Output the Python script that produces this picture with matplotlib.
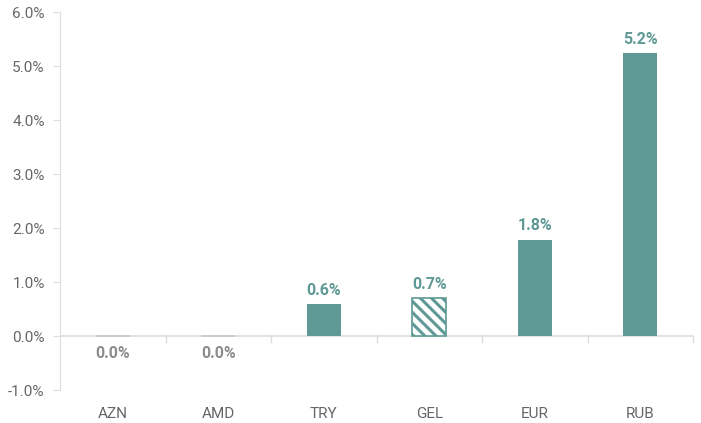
import numpy as np
import matplotlib
matplotlib.use("Agg")
import matplotlib.pyplot as plt

plt.rcParams['font.family'] = ['Roboto', 'DejaVu Sans']
plt.rcParams['hatch.linewidth'] = 2.2

currencies = ['AZN', 'AMD', 'TRY', 'GEL', 'EUR', 'RUB']
values = [0.0, 0.0, 0.59, 0.70, 1.78, 5.24]
labels = ['0.0%', '0.0%', '0.6%', '0.7%', '1.8%', '5.2%']

teal = '#5e9995'
grey = '#8c8c8c'
axis_grey = '#dddddd'

fig = plt.figure(figsize=(7.01, 4.23), dpi=100)
ax = fig.add_axes([60/701, 33/423, 633/701, 378/423])

x = np.arange(len(currencies))
for i, v in enumerate(values):
    if v == 0:
        ax.bar(x[i], 0.02, bottom=-0.01, width=0.32, color='#cccccc')
        ax.text(x[i], -0.18, labels[i], ha='center', va='top', color=grey,
                fontsize=11.5, fontweight='bold')
        continue
    if currencies[i] == 'GEL':
        ax.bar(x[i], v, width=0.32, facecolor='white', edgecolor=teal,
               hatch='\\\\\\', linewidth=1.2)
    else:
        ax.bar(x[i], v, width=0.32, color=teal)
    ax.text(x[i], v + 0.12, labels[i], ha='center', va='bottom', color=teal,
            fontsize=11.5, fontweight='bold')

ax.set_xlim(-0.5, len(currencies) - 0.5)
ax.set_ylim(-1.0, 6.0)
ax.set_yticks(np.arange(-1, 7, 1))
ax.set_yticklabels(['%.1f%%' % t for t in np.arange(-1, 7, 1)])
ax.axhline(0, color=axis_grey, lw=1.2, zorder=0)

# category boundary ticks under the zero line
for b in np.arange(0.5, len(currencies), 1.0):
    ax.plot([b, b], [0, -0.11], color=axis_grey, lw=1, clip_on=False)

ax.set_xticks(x)
ax.set_xticklabels(currencies)
ax.tick_params(axis='x', length=0, pad=12, labelsize=11, labelcolor='#666666')
ax.tick_params(axis='y', length=5, color=axis_grey, labelsize=11, labelcolor='#666666', pad=6)

for s in ['top', 'right', 'bottom']:
    ax.spines[s].set_visible(False)
ax.spines['left'].set_color(axis_grey)

fig.savefig('out.png', dpi=100)
